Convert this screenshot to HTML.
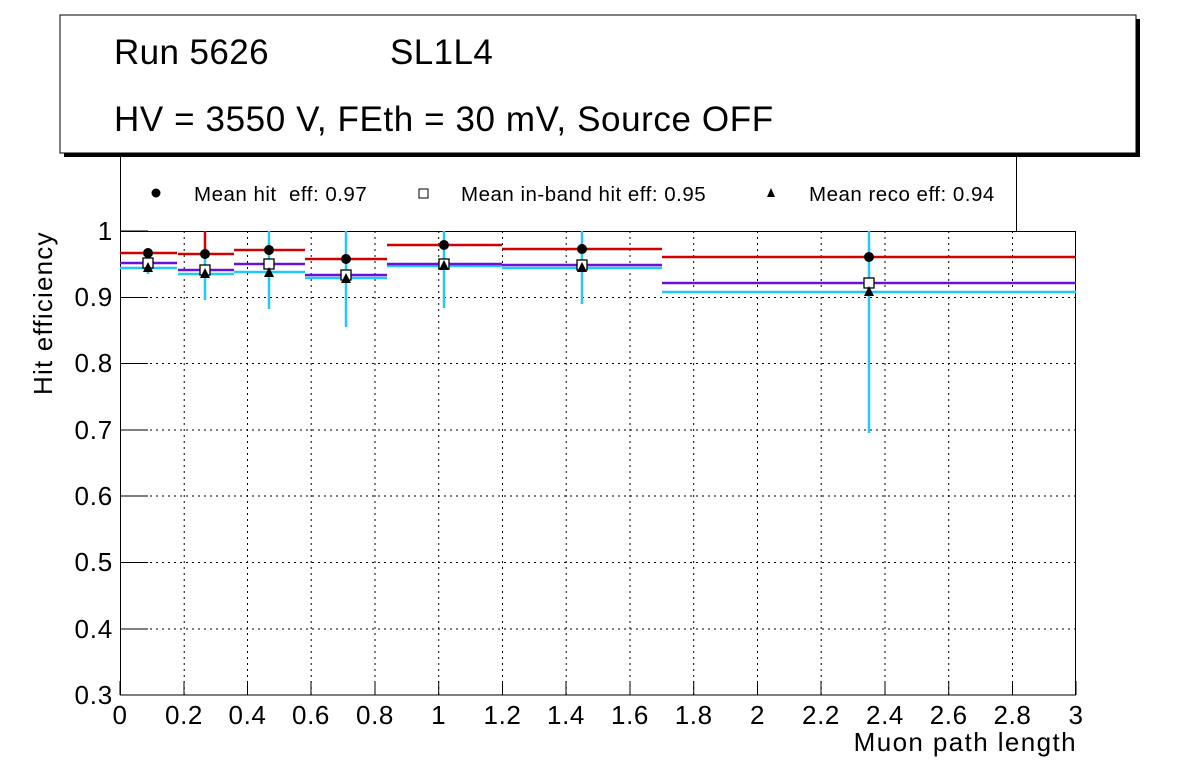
<!DOCTYPE html>
<html><head><style>body{margin:0;background:#fff}svg{display:block}text{font-family:"Liberation Sans",sans-serif}</style></head><body>
<svg width="1196" height="772" viewBox="0 0 1196 772">
<rect x="64" y="19" width="1076" height="138" fill="#000"/>
<rect x="60" y="15" width="1076" height="138" fill="#fff" stroke="#000" stroke-width="1"/>
<text x="114" y="64" font-size="35" letter-spacing="0.4">Run 5626</text>
<text x="390" y="64" font-size="35" letter-spacing="0.4">SL1L4</text>
<text x="114" y="131" font-size="35" letter-spacing="0.6">HV = 3550 V, FEth = 30 mV, Source OFF</text>
<path d="M120.5 153V231M1016.5 153V231" stroke="#000"/>
<g font-size="20.5" letter-spacing="0.5">
<circle cx="156" cy="193" r="4.5" fill="#000"/>
<text x="194" y="201">Mean hit&#160; eff: 0.97</text>
<rect x="419" y="189" width="9" height="9" fill="#fff" stroke="#000"/>
<text x="461" y="201">Mean in-band hit eff: 0.95</text>
<polygon points="771,188 767,197 775,197" fill="#000"/>
<text x="809" y="201">Mean reco eff: 0.94</text>
</g>
<g stroke="#000" stroke-dasharray="2,4" stroke-width="1">
<path d="M184.2 231V695M247.5 231V695M311.2 231V695M375 231V695M438.7 231V695M502.5 231V695M566.2 231V695M630 231V695M693.7 231V695M757.5 231V695M821.2 231V695M885 231V695M948.7 231V695M1012.5 231V695"/>
<path d="M120 297.5H1076M120 363.5H1076M120 430H1076M120 496H1076M120 562.5H1076M120 629H1076"/>
</g>
<rect x="120.5" y="231.5" width="955" height="463.5" fill="none" stroke="#000"/>
<g stroke="#000">
<path d="M120 695v-14M184 695v-14M247.5 695v-14M311 695v-14M375 695v-14M438.7 695v-14M502.5 695v-14M566 695v-14M630 695v-14M693.7 695v-14M757.5 695v-14M821 695v-14M885 695v-14M948.7 695v-14M1012.5 695v-14M1076 695v-14"/>
<path d="M120 231h28M120 297.5h28M120 363.5h28M120 430h28M120 496h28M120 562.5h28M120 629h28M120 695h28"/>
</g>
<g font-size="26" text-anchor="middle" letter-spacing="0.6">
<text x="120" y="724">0</text><text x="184" y="724">0.2</text><text x="247.5" y="724">0.4</text><text x="311" y="724">0.6</text><text x="375" y="724">0.8</text><text x="438.7" y="724">1</text><text x="502.5" y="724">1.2</text><text x="566" y="724">1.4</text><text x="630" y="724">1.6</text><text x="693.7" y="724">1.8</text><text x="757.5" y="724">2</text><text x="821" y="724">2.2</text><text x="885" y="724">2.4</text><text x="948.7" y="724">2.6</text><text x="1012.5" y="724">2.8</text><text x="1076" y="724">3</text>
</g>
<g font-size="26" text-anchor="end" letter-spacing="0.8">
<text x="113" y="240">1</text><text x="113" y="306">0.9</text><text x="113" y="372">0.8</text><text x="113" y="439">0.7</text><text x="113" y="505">0.6</text><text x="113" y="571">0.5</text><text x="113" y="638">0.4</text><text x="113" y="704">0.3</text>
</g>
<text x="1077" y="751" font-size="26" text-anchor="end" letter-spacing="1.4">Muon path length</text>
<text transform="translate(52,395) rotate(-90)" font-size="26" letter-spacing="1.2">Hit efficiency</text>
<g stroke-width="2.5">
<g stroke="#22c8f8">
<path d="M120 268H177M148 262V274M178 274H234M205 250V300M234 272H305M269 231V309M305 278H387M346 231V327M387 266H502M444 231V308M502 268H662M582 231V304M662 292H1076M869 231V433"/>
</g>
<g stroke="#6a10d8">
<path d="M120 263H177M178 270H234M234 264H305M305 275H387M387 264H502M502 265H662M662 283H1076"/>
</g>
<g stroke="#d00000">
<path d="M120 253H177M178 254H234M205 231V254M234 250H305M305 259H387M387 245H502M502 249H662M662 257H1076"/>
</g>
</g>
<g fill="#000">
<circle cx="148" cy="253" r="5"/><circle cx="205" cy="254" r="5"/><circle cx="269" cy="250" r="5"/><circle cx="346" cy="259" r="5"/><circle cx="444" cy="245" r="5"/><circle cx="582" cy="249" r="5"/><circle cx="869" cy="257" r="5"/>
</g>
<g fill="#fff" stroke="#000" stroke-width="1.3">
<rect x="143" y="258" width="10" height="10"/><rect x="200" y="265" width="10" height="10"/><rect x="264" y="259" width="10" height="10"/><rect x="341" y="270" width="10" height="10"/><rect x="439" y="259" width="10" height="10"/><rect x="577" y="260" width="10" height="10"/><rect x="864" y="278" width="10" height="10"/>
</g>
<g fill="#000">
<polygon points="148,262 143,272 153,272"/><polygon points="205,268 200,278 210,278"/><polygon points="269,267 264,277 274,277"/><polygon points="346,273 341,283 351,283"/><polygon points="444,260 439,270 449,270"/><polygon points="582,262 577,272 587,272"/><polygon points="869,286 864,296 874,296"/>
</g>
</svg>
</body></html>
